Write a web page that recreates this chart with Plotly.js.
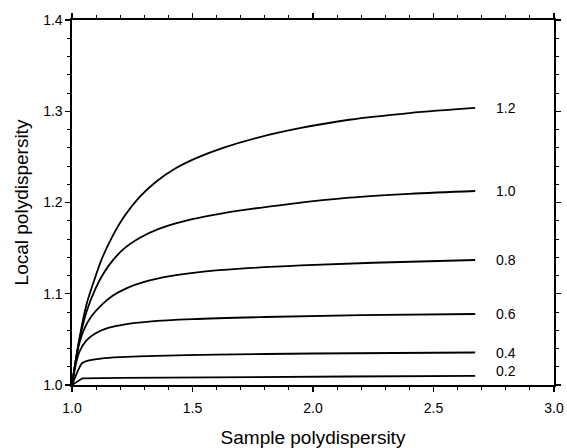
<!DOCTYPE html>
<html>
<head>
<meta charset="utf-8">
<script src="https://cdn.plot.ly/plotly-3.0.1.min.js"></script>
<style>html,body{margin:0;padding:0;background:#fff}#chart{width:567px;height:448px}</style>
</head>
<body>
<div id="chart"></div>
<script>
// Curve labels (parameter values)
const curveLabels = ["1.2", "1.0", "0.8", "0.6", "0.4", "0.2"];

// Sample polydispersity (x) and local polydispersity (y) for each curve
const x12 = [1.0, 1.03, 1.06, 1.09, 1.125, 1.17, 1.22, 1.28, 1.35, 1.43, 1.52, 1.63, 1.78, 1.95, 2.15, 2.4, 2.673];
const y12 = [1.0, 1.05, 1.088, 1.113, 1.139, 1.164, 1.186, 1.206, 1.223, 1.2375, 1.2492, 1.2602, 1.2717, 1.2817, 1.2907, 1.298, 1.3036];

const x10 = [1.0, 1.03, 1.06, 1.098, 1.15, 1.21, 1.28, 1.36, 1.45, 1.55, 1.7, 1.9, 2.15, 2.4, 2.673];
const y10 = [1.0, 1.048, 1.080, 1.106, 1.130, 1.148, 1.161, 1.171, 1.1785, 1.1845, 1.1913, 1.1983, 1.2053, 1.2095, 1.2126];

const x08 = [1.0, 1.025, 1.05, 1.08, 1.12, 1.17, 1.23, 1.30, 1.40, 1.52, 1.7, 1.95, 2.25, 2.673];
const y08 = [1.0, 1.040, 1.061, 1.075, 1.087, 1.098, 1.1065, 1.113, 1.119, 1.1235, 1.1275, 1.131, 1.134, 1.137];

const x06 = [1.0, 1.03, 1.06, 1.10, 1.15, 1.22, 1.32, 1.50, 1.8, 2.2, 2.673];
const y06 = [1.0, 1.036, 1.049, 1.057, 1.0625, 1.0665, 1.0695, 1.0722, 1.0745, 1.0765, 1.0778];

const x04 = [1.0, 1.04, 1.07, 1.12, 1.2, 1.35, 1.6, 2.0, 2.673];
const y04 = [1.0, 1.0235, 1.027, 1.029, 1.0305, 1.032, 1.0333, 1.0345, 1.0356];

const x02 = [1.0, 1.043, 1.2, 1.526, 2.147, 2.673];
const y02 = [1.0, 1.0073, 1.0078, 1.0085, 1.0093, 1.0099];

const xs = [x12, x10, x08, x06, x04, x02];
const ys = [y12, y10, y08, y06, y04, y02];

const xTickVals = [1.0, 1.5, 2.0, 2.5, 3.0];
const yTickVals = [1.0, 1.1, 1.2, 1.3, 1.4];

const traces = xs.map((xv, i) => ({
  x: xv, y: ys[i], type: 'scatter', mode: 'lines',
  line: {color: '#000', width: 1.8, shape: i < 5 ? 'spline' : 'linear', smoothing: i === 4 ? 0.5 : 1},
  hoverinfo: 'skip', showlegend: false
}));
// invisible trace to carry the mirrored (top/right) axes
traces.push({x: [1.0], y: [1.0], xaxis: 'x2', yaxis: 'y2', type: 'scatter', mode: 'markers',
  marker: {opacity: 0}, hoverinfo: 'skip', showlegend: false});

const FAM = 'Liberation Sans, Arial, sans-serif';
const labelX = 2.80;
const annotations = curveLabels.map((t, i) => ({
  x: labelX, y: ys[i][ys[i].length - 1], text: t, showarrow: false,
  xanchor: 'center', yanchor: 'middle', yshift: i === 5 ? 5 : 0,
  font: {family: FAM, size: 14, color: '#000'}
}));

const tickCommon = {ticks: 'outside', ticklen: 5, tickwidth: 1.3, tickcolor: '#000',
  showline: true, linecolor: '#000', linewidth: 1.6, showgrid: false, zeroline: false, automargin: false};

const layout = {
  width: 567, height: 448,
  margin: {l: 72, r: 13, t: 20, b: 63},
  paper_bgcolor: '#fff', plot_bgcolor: '#fff',
  font: {family: FAM, size: 14, color: '#000'},
  xaxis: Object.assign({}, tickCommon, {
    range: [1.0, 3.0], tickvals: xTickVals, tickformat: '.1f', ticklabelstandoff: 5,
    minor: {dtick: 0.1, tick0: 1.0, ticks: 'outside', ticklen: 3, tickwidth: 1, tickcolor: '#000', showgrid: false},
    title: {text: 'Sample polydispersity', font: {family: FAM, size: 19, color: '#000'}, standoff: 17}
  }),
  yaxis: Object.assign({}, tickCommon, {
    range: [1.0, 1.4], tickvals: yTickVals, tickformat: '.1f',
    minor: {dtick: 0.02, tick0: 1.0, ticks: 'outside', ticklen: 3, tickwidth: 1, tickcolor: '#000', showgrid: false},
    title: {text: 'Local polydispersity', font: {family: FAM, size: 19, color: '#000'}, standoff: 9}
  }),
  xaxis2: Object.assign({}, tickCommon, {
    overlaying: 'x', side: 'top', anchor: 'y2', range: [1.0, 3.0], tickvals: xTickVals, showticklabels: false,
    minor: {dtick: 0.1, tick0: 1.0, ticks: 'outside', ticklen: 3, tickwidth: 1, tickcolor: '#000', showgrid: false}
  }),
  yaxis2: Object.assign({}, tickCommon, {
    overlaying: 'y', side: 'right', anchor: 'x2', range: [1.0, 1.4], tickvals: yTickVals, showticklabels: false,
    minor: {dtick: 0.02, tick0: 1.0, ticks: 'outside', ticklen: 3, tickwidth: 1, tickcolor: '#000', showgrid: false}
  }),
  annotations: annotations
};

Plotly.newPlot('chart', traces, layout, {staticPlot: true, displayModeBar: false});
</script>
</body>
</html>
